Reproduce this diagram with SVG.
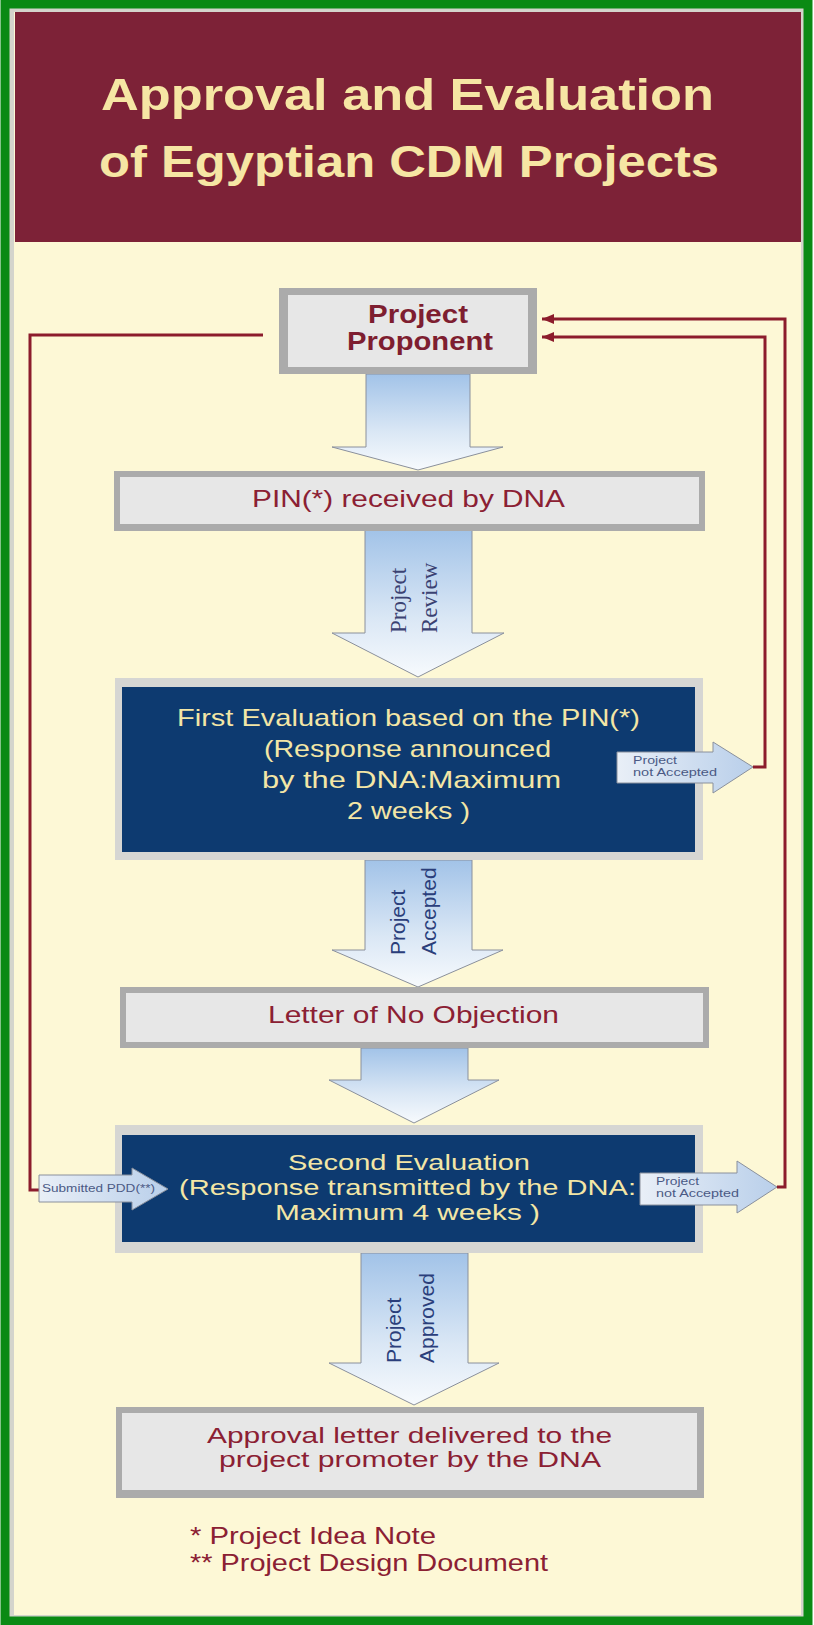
<svg xmlns="http://www.w3.org/2000/svg" width="814" height="1625" viewBox="0 0 814 1625">
<defs>
  <linearGradient id="gArrow" x1="0" y1="0" x2="0" y2="1">
    <stop offset="0" stop-color="#A2C3E8"/>
    <stop offset="0.6" stop-color="#DAE7F5"/>
    <stop offset="1" stop-color="#F7FAFD"/>
  </linearGradient>
  <linearGradient id="gSide" x1="0" y1="0" x2="1" y2="0">
    <stop offset="0" stop-color="#E9EFF7"/>
    <stop offset="1" stop-color="#B9CFEA"/>
  </linearGradient>
  <marker id="mArr" markerUnits="userSpaceOnUse" markerWidth="12" markerHeight="10" refX="12" refY="5" orient="auto">
    <path d="M0,0 L12,5 L0,10 z" fill="#8C1C2C"/>
  </marker>
</defs>
<style>
  .conn{fill:none;stroke:#8C1C2C;stroke-width:3}
  .big{fill:url(#gArrow);stroke:#8A909C;stroke-width:1}
  .side{fill:url(#gSide);stroke:#8A909C;stroke-width:1}
  .bOut{fill:#ABABAB}
  .bIn{fill:#E7E7E7}
  .eOut{fill:#D6D6D3}
  .navy{fill:#0D3A70}
  .t{font-family:"Liberation Sans",Arial,sans-serif}
  .m{fill:#8B2033;font-size:24px}
  .y{fill:#F3E6A6;font-size:24px}
  .tight{font-size:22px}
  .title{fill:#F6E6A4;font-size:45px;font-weight:bold}
  .pp{fill:#7E1E30;font-size:25px;font-weight:bold}
  .v{fill:#2A3E7B;font-size:21px}
  .vs{font-family:"Liberation Serif","Times New Roman",serif;fill:#3B4272;font-size:23px}
  .s{fill:#4B5A85;font-size:11px}
</style>

<g id="background">
  <rect x="0" y="0" width="814" height="1625" fill="#FFFFFF"/>
  <rect x="9" y="8" width="795" height="1610" fill="#D4D4CC"/>
  <rect x="14" y="12" width="787" height="1603" fill="#FDF8D6"/>
  <rect x="5" y="4" width="803" height="1617" fill="none" stroke="#0A8A14" stroke-width="9"/>
</g>

<g id="header">
  <rect x="15" y="12" width="786" height="230" fill="#7D2237"/>
  <text class="t title" x="101" y="110" textLength="613" lengthAdjust="spacingAndGlyphs">Approval and Evaluation</text>
  <text class="t title" x="99" y="177" textLength="620" lengthAdjust="spacingAndGlyphs">of Egyptian CDM Projects</text>
</g>

<g id="connectors">
  <path class="conn" d="M263,335 H30 V1190 H40"/>
  <path class="conn" d="M777,1187 H785 V319 H542" marker-end="url(#mArr)"/>
  <path class="conn" d="M753,767 H765 V337 H542" marker-end="url(#mArr)"/>
</g>

<g id="arrow-proponent-pin">
  <polygon class="big" points="366,374 470,374 470,447 503,447 418,470 332,447 366,447"/>
</g>
<g id="arrow-review">
  <polygon class="big" points="365,530 472,530 472,633 504,633 418,677 332,633 365,633"/>
  <text class="vs" transform="translate(406,633) rotate(-90)">Project</text>
  <text class="vs" transform="translate(437,633) rotate(-90)">Review</text>
</g>
<g id="arrow-accepted">
  <polygon class="big" points="365,860 472,860 472,950 503,950 418,987 332,950 365,950"/>
  <text class="t v" transform="translate(405,955) rotate(-90)">Project</text>
  <text class="t v" transform="translate(436,955) rotate(-90)">Accepted</text>
</g>
<g id="arrow-letter-second">
  <polygon class="big" points="361,1048 468,1048 468,1080 499,1080 414,1123 329,1080 361,1080"/>
</g>
<g id="arrow-approved">
  <polygon class="big" points="361,1253 468,1253 468,1363 499,1363 414,1405 329,1363 361,1363"/>
  <text class="t v" transform="translate(401,1363) rotate(-90)">Project</text>
  <text class="t v" transform="translate(434,1363) rotate(-90)">Approved</text>
</g>

<g id="node-proponent">
  <rect class="bOut" x="279" y="288" width="258" height="86"/>
  <rect class="bIn" x="288" y="295" width="240" height="72"/>
  <text class="t pp" x="368" y="323" textLength="100" lengthAdjust="spacingAndGlyphs">Project</text>
  <text class="t pp" x="347" y="350" textLength="146" lengthAdjust="spacingAndGlyphs">Proponent</text>
</g>

<g id="node-pin">
  <rect class="bOut" x="114" y="471" width="591" height="60"/>
  <rect class="bIn" x="120" y="477" width="579" height="47"/>
  <text class="t m" x="252" y="507" textLength="313" lengthAdjust="spacingAndGlyphs">PIN(*) received by DNA</text>
</g>

<g id="node-first-eval">
  <rect class="eOut" x="115" y="678" width="588" height="182"/>
  <rect class="navy" x="122" y="687" width="573" height="165"/>
  <text class="t y" x="177" y="726" textLength="463" lengthAdjust="spacingAndGlyphs">First Evaluation based on the PIN(*)</text>
  <text class="t y" x="264" y="757" textLength="287" lengthAdjust="spacingAndGlyphs">(Response announced</text>
  <text class="t y" x="262" y="788" textLength="299" lengthAdjust="spacingAndGlyphs">by the DNA:Maximum</text>
  <text class="t y" x="347" y="819" textLength="123" lengthAdjust="spacingAndGlyphs">2 weeks )</text>
</g>

<g id="node-not-accepted-1">
  <polygon class="side" points="617,752 713,752 713,742 753,767 713,793 713,783 617,783"/>
  <text class="t s" x="633" y="764" textLength="44" lengthAdjust="spacingAndGlyphs">Project</text>
  <text class="t s" x="633" y="776" textLength="84" lengthAdjust="spacingAndGlyphs">not Accepted</text>
</g>

<g id="node-letter">
  <rect class="bOut" x="120" y="987" width="589" height="61"/>
  <rect class="bIn" x="126" y="993" width="577" height="49"/>
  <text class="t m" x="268" y="1023" textLength="291" lengthAdjust="spacingAndGlyphs">Letter of No Objection</text>
</g>

<g id="node-second-eval">
  <rect class="eOut" x="115" y="1125" width="588" height="128"/>
  <rect class="navy" x="122" y="1135" width="573" height="107"/>
  <text class="t y tight" x="288" y="1170" textLength="242" lengthAdjust="spacingAndGlyphs">Second Evaluation</text>
  <text class="t y tight" x="179" y="1195" textLength="457" lengthAdjust="spacingAndGlyphs">(Response transmitted by the DNA:</text>
  <text class="t y tight" x="275" y="1220" textLength="265" lengthAdjust="spacingAndGlyphs">Maximum 4 weeks )</text>
</g>

<g id="node-submitted-pdd">
  <polygon class="side" points="39,1175 132,1175 132,1168 168,1189 132,1210 132,1202 39,1202"/>
  <text class="t s" x="42" y="1192" textLength="113" lengthAdjust="spacingAndGlyphs">Submitted PDD(**)</text>
</g>

<g id="node-not-accepted-2">
  <polygon class="side" points="640,1173 737,1173 737,1161 777,1187 737,1213 737,1205 640,1205"/>
  <text class="t s" x="656" y="1185" textLength="43" lengthAdjust="spacingAndGlyphs">Project</text>
  <text class="t s" x="656" y="1197" textLength="83" lengthAdjust="spacingAndGlyphs">not Accepted</text>
</g>

<g id="node-approval">
  <rect class="bOut" x="116" y="1407" width="588" height="91"/>
  <rect class="bIn" x="122" y="1413" width="575" height="77"/>
  <text class="t m tight" x="207" y="1443" textLength="405" lengthAdjust="spacingAndGlyphs">Approval letter delivered to the</text>
  <text class="t m tight" x="219" y="1467" textLength="382" lengthAdjust="spacingAndGlyphs">project promoter by the DNA</text>
</g>

<g id="footnotes">
  <text class="t m" x="190" y="1544" textLength="246" lengthAdjust="spacingAndGlyphs">* Project Idea Note</text>
  <text class="t m" x="190" y="1571" textLength="358" lengthAdjust="spacingAndGlyphs">** Project Design Document</text>
</g>
</svg>
